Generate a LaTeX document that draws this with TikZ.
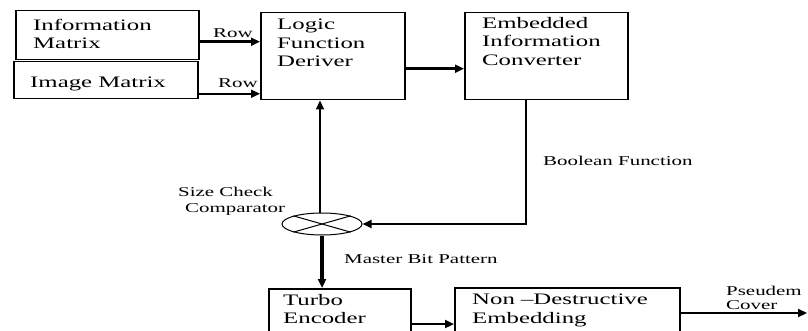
\documentclass[tikz,border=0pt]{standalone}
\usepackage{fontspec}
\setmainfont{Liberation Serif}[FakeStretch=1.55]
\usetikzlibrary{arrows.meta,shapes.geometric}
\newcommand{\boxfont}{\fontsize{16}{18.5}\selectfont}
\newcommand{\lblfont}{\fontsize{13.5}{15.5}\selectfont}
\begin{document}
\begin{tikzpicture}[x=1pt,y=-1pt,
  blk/.style={draw, line width=1.5pt, inner sep=0pt, anchor=north west},
  txt/.style={anchor=north west, align=left, inner sep=0pt, font=\boxfont},
  lbl/.style={inner sep=0pt, font=\lblfont},
  arr/.style={line width=2.2pt, -{Triangle[length=9pt,width=8pt]}}]
\useasboundingbox (0,0) rectangle (808,331);
\clip (0,0) rectangle (808,331);
% input matrices
\node[blk, minimum width=183pt, minimum height=49pt,
  label={[txt, xshift=18pt, yshift=-9pt]north west:Information\\Matrix}] (info) at (15,10){};
\node[blk, minimum width=184pt, minimum height=37pt,
  label={[txt, xshift=17pt, yshift=-16pt]north west:Image Matrix}] (image) at (13,61){};
% processing blocks
\node[blk, minimum width=144pt, minimum height=87pt,
  label={[txt, xshift=17pt, yshift=-7pt]north west:Logic\\Function\\Deriver}] (logic) at (260,12){};
\node[blk, minimum width=163pt, minimum height=87pt,
  label={[txt, xshift=18pt, yshift=-5pt]north west:Embedded\\Information\\Converter}] (embed) at (464,12){};
\node[draw, ellipse, line width=1pt, minimum width=80pt, minimum height=22pt, inner sep=0pt] (cmp) at (322,224){};
\draw[line width=1pt] (cmp.north west) -- (cmp.south east);
\draw[line width=1pt] (cmp.north east) -- (cmp.south west);
\node[blk, minimum width=142pt, minimum height=60pt,
  label={[txt, xshift=15pt, yshift=-6pt]north west:Turbo\\Encoder}] (turbo) at (268,288){};
\node[blk, minimum width=225pt, minimum height=60pt,
  label={[txt, xshift=18pt, yshift=-7pt]north west:Non --Destructive\\Embedding}] (nond) at (454,287){};
\coordinate (out) at (807,313);
% connectors
\draw[arr, line width=2.8pt] ([yshift=-6.5pt]info.east) -- ([yshift=-6.5pt]info.east -| logic.west);
\draw[arr] ([yshift=-13.5pt]image.east) -- ([yshift=-13.5pt]image.east -| logic.west);
\draw[arr, line width=2.6pt] ([yshift=-12.5pt]logic.east) -- ([yshift=-12.5pt]logic.east -| embed.west);
\draw[arr, line width=1.7pt] ([xshift=-20.5pt]embed.south) |- (cmp.east);
\draw[arr, line width=1.7pt] ([xshift=-2pt]cmp.north) -- ([xshift=-2pt]cmp.north |- logic.south);
\draw[arr, line width=3.4pt] (cmp.south) -- (cmp.south |- turbo.north);
\draw[arr, line width=2.6pt] ([yshift=-36pt]turbo.north east) -- ([yshift=-36pt]turbo.north east -| nond.west);
\draw[arr] ([yshift=-26pt]nond.north east) -- (out);
% labels
\node[lbl, anchor=base west] (row1) at (213,38) {Row};
\node[lbl, anchor=base west] (row2) at (218,88) {Row};
\node[lbl, anchor=north west, align=left] (cmplbl) at (178,187) {Size Check\\\hspace*{7pt}Comparator};
\node[lbl, anchor=base west] (bool) at (543,166) {Boolean Function};
\node[lbl, anchor=base west] (mbp) at (344,263) {Master Bit Pattern};
\node[lbl, anchor=north west, align=left, font=\fontsize{13.5}{14}\selectfont] (pseudo) at (726,286) {Pseudem\\Cover};
\end{tikzpicture}
\end{document}
